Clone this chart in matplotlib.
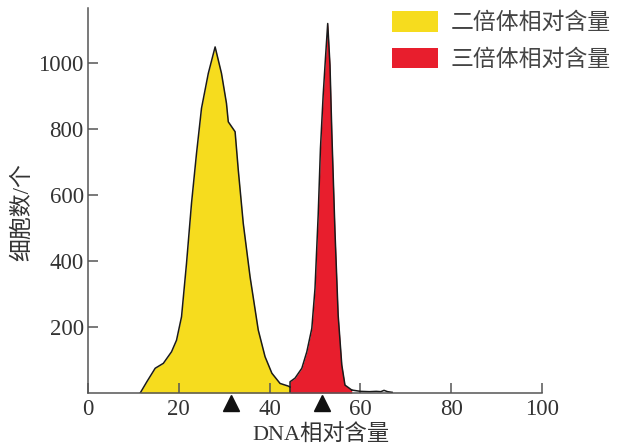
import numpy as np
import matplotlib
matplotlib.use('Agg')
import matplotlib.pyplot as plt

# DNA content (x) and cell counts (y)
diploid_x = [11.5, 13.0, 14.8, 16.6, 18.4, 19.5, 20.6, 21.7, 22.8, 23.9, 25.0, 26.5, 28.0,
             29.4, 30.5, 30.9, 32.4, 33.1, 34.2, 35.7, 37.5, 39.0, 40.5, 42.3, 44.1, 44.5]
diploid_y = [0, 35, 75, 90, 125, 160, 231, 393, 575, 726, 863, 969, 1049,
             969, 878, 822, 792, 676, 514, 352, 191, 110, 60, 29, 21, 18]

triploid_x = [44.5, 44.5, 45.6, 47.1, 48.2, 49.3, 50.0, 50.7, 51.2, 51.8, 52.3, 52.8,
              53.3, 53.7, 54.4, 55.1, 55.9, 56.6, 58.1]
triploid_y = [0, 34, 45, 75, 125, 196, 317, 539, 741, 903, 1014, 1120,
              994, 792, 489, 236, 85, 24, 9]

tail_x = [58.1, 60.0, 62.0, 63.5, 64.5, 65.2, 66.0, 67.0]
tail_y = [9, 5, 4, 5, 4, 8, 4, 2]

peak_marks = [31.4, 51.6]   # black triangles under the axis
xticks = [0, 20, 40, 60, 80, 100]
yticks = [200, 400, 600, 800, 1000]
labels = ['二倍体相对含量', '三倍体相对含量']

yellow = '#F6DC1E'
red = '#E81E2D'
grey = '#555555'
txt = '#333333'
serif_cjk = ['Liberation Serif', 'Noto Sans CJK SC']

fig = plt.figure(figsize=(6.2, 4.46), dpi=100)
ax = fig.add_axes([88/620, 1-393/446, 454/620, 385/446])

f1 = ax.fill_between(diploid_x, diploid_y, color=yellow, lw=0)
f2 = ax.fill_between(triploid_x, triploid_y, color=red, lw=0)
ax.plot(diploid_x, diploid_y, color='#1a1a1a', lw=1.1)
ax.plot(triploid_x, triploid_y, color='#1a1a1a', lw=1.1)
ax.plot(tail_x, tail_y, color='#1a1a1a', lw=1.1)

# triangles below the x axis
ax.plot(peak_marks, [-30]*len(peak_marks), '^', color='#111111', ms=11, clip_on=False)

ax.set_xlim(0, 100)
ax.set_ylim(0, 1167)
for s in ['top', 'right']:
    ax.spines[s].set_visible(False)
for s in ['left', 'bottom']:
    ax.spines[s].set_color(grey)
    ax.spines[s].set_linewidth(1.1)

ax.set_xticks(xticks)
ax.set_yticks(yticks)
ax.tick_params(direction='in', length=7, width=1.1, color=grey, labelcolor=txt, labelsize=16.5)
ax.tick_params(axis='x', pad=4)
ax.tick_params(axis='y', pad=3)
for lab in ax.get_xticklabels() + ax.get_yticklabels():
    lab.set_family('Liberation Serif')

ax.set_xlabel('DNA相对含量', family=serif_cjk, fontsize=16, color=txt)
ax.xaxis.set_label_coords(0.513, -0.082)
ax.set_ylabel('细胞数/个', family=serif_cjk, fontsize=16.5, color=txt)
ax.yaxis.set_label_coords(-0.121, 0.471)

ax.legend([f1, f2], labels, loc='upper left', bbox_to_anchor=(392/620, 1-11/446),
          bbox_transform=fig.transFigure, frameon=False, borderpad=0, borderaxespad=0,
          handlelength=2.0, handleheight=1.0, handletextpad=0.55, labelspacing=0.6,
          prop={'family': 'Noto Sans CJK SC', 'size': 16.5}, labelcolor='#444444')

fig.savefig('out.png', dpi=100)
